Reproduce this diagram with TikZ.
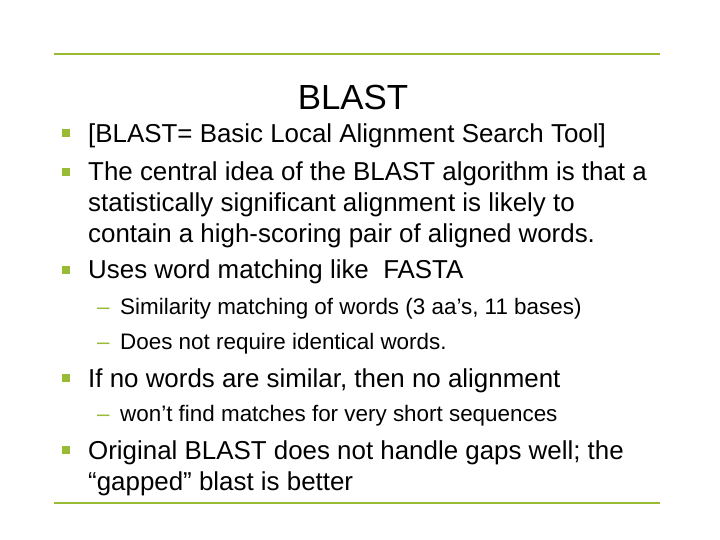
\documentclass[tikz,border=0pt]{standalone}
\usepackage{fontspec}
\setmainfont{Liberation Sans}
\definecolor{grn}{HTML}{99BB33}
\begin{document}
\begin{tikzpicture}[x=1bp,y=-1bp,
  txt/.style={anchor=base west,inner sep=0pt,font=\fontsize{26}{26}\selectfont},
  sub/.style={anchor=base west,inner sep=0pt,font=\fontsize{22.5}{22.5}\selectfont},
  bul/.style={fill=grn,draw=none,minimum size=7.5bp,inner sep=0pt}]
\useasboundingbox (0,0) rectangle (720,540);
\draw[grn,line width=2.8bp] (54,54) -- (660,54);
\draw[grn,line width=2.8bp] (54,503) -- (660,503);
\node[anchor=base,inner sep=0pt,font=\fontsize{35}{35}\selectfont] (title) at (353,110) {BLAST};
\foreach \y in {133,172,270,378,450} \node[bul] at (66,\y) {};
\node[txt] (l1) at (88,143) {[BLAST= Basic Local Alignment Search Tool]};
\node[txt] (l2) at (88,181) {The central idea of the BLAST algorithm is that a};
\node[txt] (l3) at (88,212) {statistically significant alignment is likely to};
\node[txt] (l4) at (88,243) {contain a high-scoring pair of aligned words.};
\node[txt] (l5) at (88,279) {Uses word matching like\ \ FASTA};
\node[sub,text=grn] at (97,314) {–};
\node[sub] (s1) at (120,314) {Similarity matching of words (3 aa’s, 11 bases)};
\node[sub,text=grn] at (97,349) {–};
\node[sub] (s2) at (120,349) {Does not require identical words.};
\node[txt] (l6) at (88,387) {If no words are similar, then no alignment};
\node[sub,text=grn] at (97,421) {–};
\node[sub] (s3) at (120,421) {won’t find matches for very short sequences};
\node[txt] (l7) at (88,459) {Original BLAST does not handle gaps well; the};
\node[txt] (l8) at (88,490) {“gapped” blast is better};
\end{tikzpicture}
\end{document}
